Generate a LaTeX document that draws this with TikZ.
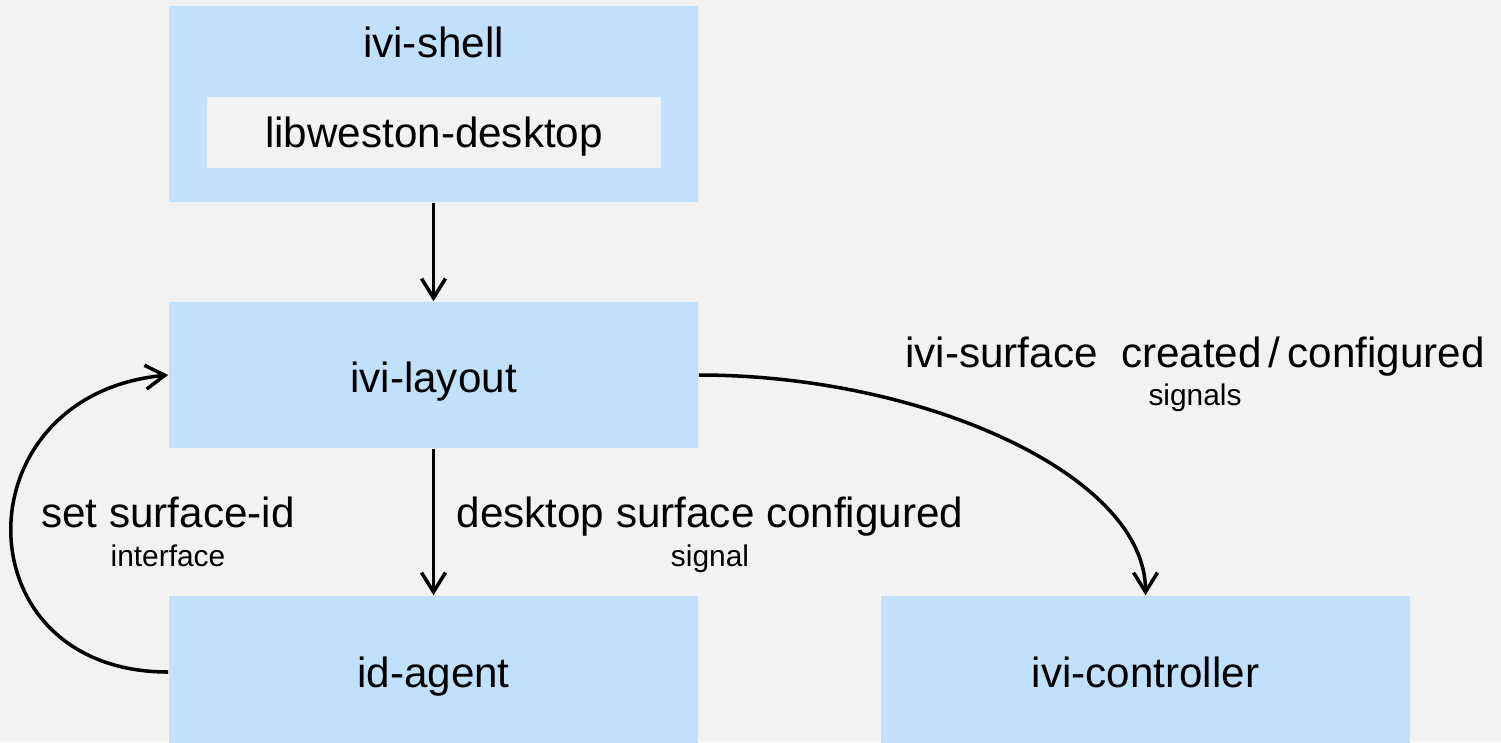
\documentclass[tikz,border=0pt]{standalone}
\usepackage{fontspec}
\setmainfont{Liberation Sans}
\usetikzlibrary{arrows.meta}
\definecolor{boxblue}{HTML}{C0E0FC}
\definecolor{bggray}{HTML}{F2F2F2}
\begin{document}
\begin{tikzpicture}[x=0.01cm,y=-0.01cm,
  box/.style={rectangle,fill=boxblue,draw=none,inner sep=0pt,minimum width=5.29cm},
  innerbox/.style={rectangle,fill=bggray,draw=none,inner sep=0pt},
  big/.style={anchor=base,inner sep=0pt,font=\fontsize{12}{14}\selectfont},
  small/.style={anchor=base,inner sep=0pt,font=\fontsize{8.5}{10}\selectfont},
  arr/.style={line width=1pt,-{Straight Barb[length=5.5pt,width=6.8pt,line width=1pt]}}]
\fill[bggray] (0,0) rectangle (1501,742);
\useasboundingbox (0,0) rectangle (1501,742);
\begin{scope}
\clip (0,0) rectangle (1501,742);
\node[box,minimum height=1.96cm] (shell) at (433.5,104) {};
\node[innerbox,minimum width=4.54cm,minimum height=0.71cm] (libw) at (434,132.5) {};
\node[box,minimum height=1.46cm] (layout) at (433.5,375) {};
\node[box,minimum height=1.52cm] (agent) at (433.5,672) {};
\node[box,minimum height=1.52cm] (ctrl) at (1145.5,672) {};
\end{scope}
\node[big] (tshell) at (433.5,57) {ivi-shell};
\node[big] (tlibw) at (434,147) {libweston-desktop};
\node[big] (tlayout) at (433.5,392) {ivi-layout};
\node[big] (tagent) at (433.5,687) {id-agent};
\node[big] (tctrl) at (1145.5,687) {ivi-controller};
\node[big] (lsurf) at (1195,367) {ivi-surface\ \ created\,/\,configured};
\node[small] (lsignals) at (1195,405) {signals};
\node[big] (ldesk) at (710,527) {desktop surface configured};
\node[small] (lsignal) at (710,566) {signal};
\node[big] (lset) at (168,527) {set surface-id};
\node[small] (linterface) at (168,566) {interface};
\draw[arr] (shell.south) -- (layout.north);
\draw[arr] (layout.south) -- (agent.north);
\draw[arr] (layout.east) .. controls +(225,0) and +(0,-120) .. (ctrl.north);
\draw[arr] (agent.west) .. controls +(-209,0) and +(-209,20) .. (layout.west);
\end{tikzpicture}
\end{document}
